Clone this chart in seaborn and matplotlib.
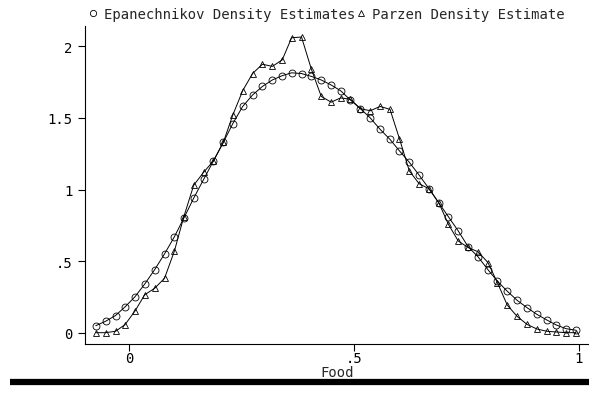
import numpy as np
import pandas as pd
import matplotlib
matplotlib.use("Agg")
import matplotlib.pyplot as plt
from matplotlib.lines import Line2D
import seaborn as sns

food = [-0.075, -0.053, -0.031, -0.010, 0.012, 0.034, 0.056, 0.078, 0.100, 0.121,
        0.143, 0.165, 0.187, 0.209, 0.230, 0.252, 0.274, 0.296, 0.318, 0.340,
        0.361, 0.383, 0.405, 0.427, 0.449, 0.470, 0.492, 0.514, 0.536, 0.558,
        0.580, 0.601, 0.623, 0.645, 0.667, 0.689, 0.710, 0.732, 0.754, 0.776,
        0.798, 0.819, 0.841, 0.863, 0.885, 0.907, 0.929, 0.950, 0.972, 0.994]

epan = [0.049, 0.08, 0.12, 0.18, 0.25, 0.34, 0.44, 0.55, 0.67, 0.80,
        0.94, 1.07, 1.20, 1.33, 1.46, 1.58, 1.66, 1.72, 1.765, 1.795,
        1.815, 1.81, 1.79, 1.765, 1.73, 1.69, 1.625, 1.565, 1.50, 1.42,
        1.35, 1.27, 1.19, 1.10, 1.005, 0.905, 0.81, 0.71, 0.60, 0.53,
        0.44, 0.36, 0.29, 0.226, 0.175, 0.128, 0.089, 0.054, 0.028, 0.017]

parzen = [0.0, 0.0, 0.01, 0.056, 0.15, 0.265, 0.31, 0.38, 0.57, 0.81,
          1.03, 1.12, 1.20, 1.33, 1.52, 1.69, 1.81, 1.875, 1.86, 1.905,
          2.06, 2.065, 1.84, 1.65, 1.61, 1.64, 1.63, 1.565, 1.55, 1.58,
          1.56, 1.355, 1.13, 1.04, 1.005, 0.905, 0.757, 0.64, 0.595, 0.565,
          0.49, 0.35, 0.193, 0.114, 0.058, 0.026, 0.01, 0.005, 0.0, 0.0]

legend_labels = ["Epanechnikov Density Estimates", "Parzen Density Estimate"]
xticks = [0, 0.5, 1]
xtick_labels = ["0", ".5", "1"]
yticks = [0, 0.5, 1, 1.5, 2]
ytick_labels = ["0", ".5", "1", "1.5", "2"]

sns.set_style("ticks")
plt.rcParams["font.family"] = ["DejaVu Sans Mono", "DejaVu Sans"]

df = pd.DataFrame({"Food": food, "epan": epan, "parzen": parzen})

fig = plt.figure(figsize=(5.89, 4.02), dpi=100)
ax = fig.add_axes([85/589, (402-345)/402, 1 - 85/589, (345-27)/402])

common = dict(color="black", linewidth=0.7, markersize=5, markerfacecolor="none",
              markeredgecolor="black", markeredgewidth=0.6)
sns.lineplot(data=df, x="Food", y="epan", marker="o", ax=ax, **common)
sns.lineplot(data=df, x="Food", y="parzen", marker="^", ax=ax, **common)

ax.set_xlim(-0.099, 1.023)
ax.set_ylim(-0.079, 2.142)
ax.set_xticks(xticks)
ax.set_xticklabels(xtick_labels)
ax.set_yticks(yticks)
ax.set_yticklabels(ytick_labels)
ax.tick_params(axis="both", direction="out", length=5, width=0.8, color="black",
               labelsize=10, labelcolor="black")
ax.tick_params(axis="x", pad=0)
ax.tick_params(axis="y", pad=4)
ax.set_xlabel("Food", fontsize=10, labelpad=0)
ax.set_ylabel("")
for s in ["top", "right"]:
    ax.spines[s].set_visible(False)
for s in ["left", "bottom"]:
    ax.spines[s].set_color("black")
    ax.spines[s].set_linewidth(0.8)

handles = [Line2D([], [], ls="none", marker="o", markersize=4.5, mfc="none", mec="black", mew=0.6),
           Line2D([], [], ls="none", marker="^", markersize=4.5, mfc="none", mec="black", mew=0.6)]
fig.legend(handles, legend_labels, ncol=2, loc="upper left",
           bbox_to_anchor=(82/589, 0.995), frameon=False, fontsize=10,
           handlelength=0.8, handletextpad=0.4, columnspacing=0.0,
           borderaxespad=0.1, borderpad=0.3)

fig.add_artist(Line2D([10/589, 1.0], [(402-383)/402, (402-383)/402],
                      transform=fig.transFigure, color="black", linewidth=4.5,
                      solid_capstyle="butt"))

fig.savefig("out.png", dpi=100)
